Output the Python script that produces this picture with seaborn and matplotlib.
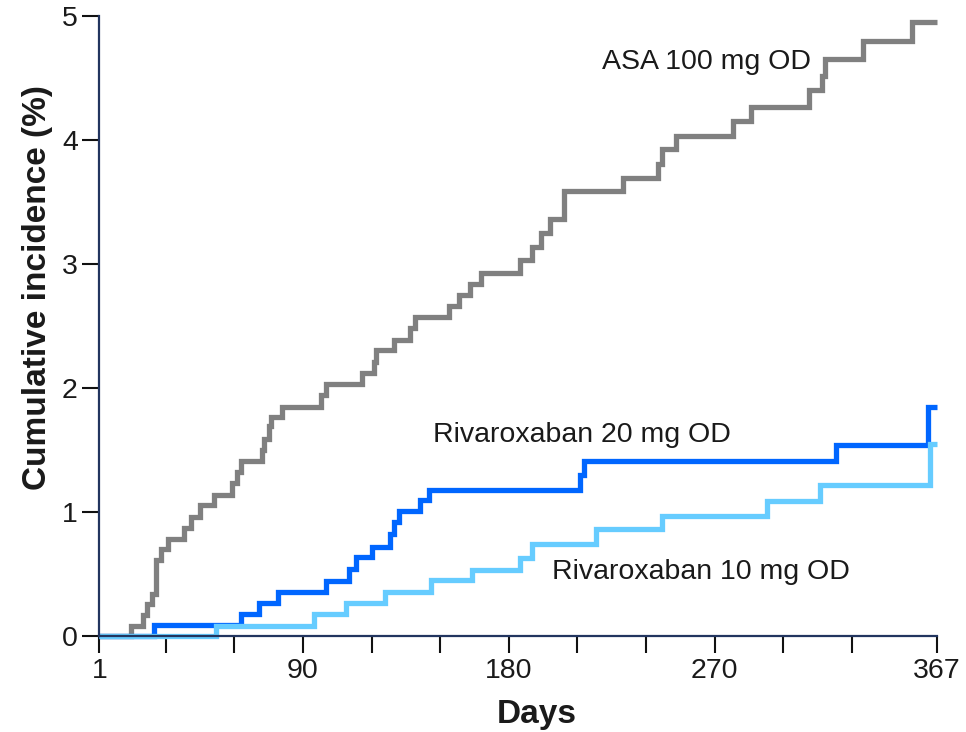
import numpy as np
import pandas as pd
import matplotlib
matplotlib.use("Agg")
import matplotlib.pyplot as plt
import seaborn as sns

# ---- data ----
asa_days = [1, 15, 20, 22, 24, 26, 28, 31, 38, 41, 45, 51, 59, 61, 63, 72, 73, 75, 76, 81,
            98, 100, 116, 121, 122, 130, 137, 139, 154, 158, 163, 168, 185, 190, 194, 198,
            204, 230, 245, 247, 253, 278, 286, 311, 317, 318, 335, 356, 367]
asa_pct = [0.0, 0.08, 0.17, 0.26, 0.34, 0.61, 0.70, 0.78, 0.87, 0.96, 1.06, 1.14, 1.23, 1.32,
           1.41, 1.50, 1.59, 1.69, 1.77, 1.85, 1.94, 2.03, 2.12, 2.21, 2.31, 2.39, 2.48, 2.57,
           2.66, 2.75, 2.84, 2.93, 3.03, 3.14, 3.25, 3.36, 3.59, 3.69, 3.81, 3.93, 4.03, 4.15,
           4.27, 4.40, 4.52, 4.65, 4.80, 4.95, 4.95]

riva20_days = [1, 25, 63, 71, 79, 100, 110, 113, 120, 128, 130, 132, 141, 145, 211, 213, 323, 363, 367]
riva20_pct = [0.0, 0.085, 0.175, 0.264, 0.357, 0.446, 0.538, 0.635, 0.72, 0.82, 0.92, 1.01,
              1.10, 1.18, 1.30, 1.41, 1.54, 1.85, 1.85]

riva10_days = [1, 52, 95, 109, 126, 146, 164, 185, 190, 218, 247, 293, 316, 364, 367]
riva10_pct = [0.0, 0.083, 0.175, 0.264, 0.352, 0.45, 0.53, 0.63, 0.74, 0.86, 0.97, 1.09,
              1.22, 1.546, 1.546]

series_names = ["ASA 100 mg OD", "Rivaroxaban 20 mg OD", "Rivaroxaban 10 mg OD"]
series_colors = ["#808080", "#0066ff", "#66ccff"]

x_ticks = [1, 30, 60, 90, 120, 150, 180, 210, 240, 270, 300, 330, 367]
x_labels = ["1", "", "", "90", "", "", "180", "", "", "270", "", "", "367"]
y_ticks = [0, 1, 2, 3, 4, 5]

df = pd.concat([
    pd.DataFrame({"Days": asa_days, "pct": asa_pct, "series": series_names[0]}),
    pd.DataFrame({"Days": riva20_days, "pct": riva20_pct, "series": series_names[1]}),
    pd.DataFrame({"Days": riva10_days, "pct": riva10_pct, "series": series_names[2]}),
], ignore_index=True)

sns.set_theme(style="white")
plt.rcParams["font.family"] = ["Liberation Sans", "DejaVu Sans"]

fig = plt.figure(figsize=(9.66, 7.32), dpi=100)
ax = fig.add_axes([99.3 / 966, 96 / 732, 837.4 / 966, 620 / 732])

sns.lineplot(data=df, x="Days", y="pct", hue="series", hue_order=series_names,
             palette=dict(zip(series_names, series_colors)), estimator=None, sort=False,
             drawstyle="steps-post", linewidth=3.8, legend=False, ax=ax)
for ln in ax.get_lines():
    ln.set_clip_on(False)
    ln.set_solid_joinstyle("miter")
    ln.set_solid_capstyle("butt")

ax.set_xlim(1, 367)
ax.set_ylim(0, 5)
ax.set_xticks(x_ticks)
ax.set_xticklabels(x_labels)
ax.set_yticks(y_ticks)
ax.set_yticklabels([str(v) for v in y_ticks])

for side in ["top", "right"]:
    ax.spines[side].set_visible(False)
for side in ["left", "bottom"]:
    ax.spines[side].set_color("#22355f")
    ax.spines[side].set_linewidth(1.6)

ax.tick_params(axis="both", which="major", direction="out", length=12.5, width=1.5,
               color="#111111", labelsize=20.5, labelcolor="#1a1a1a", pad=3,
               bottom=True, left=True)

ax.set_xlabel("Days", fontsize=24, fontweight="bold", color="#1a1a1a")
ax.set_ylabel("Cumulative incidence (%)", fontsize=24, fontweight="bold", color="#1a1a1a")
ax.xaxis.set_label_coords(0.5227, -0.126)
ax.yaxis.set_label_coords(-0.074, 0.562)
ax.xaxis.label.set_va("center")
ax.yaxis.label.set_va("center")

ax.text(220.7, 4.63, "ASA 100 mg OD", fontsize=20.5, color="#1a1a1a", ha="left", va="center")
ax.text(146.8, 1.62, "Rivaroxaban 20 mg OD", fontsize=20.5, color="#1a1a1a", ha="left", va="center")
ax.text(198.9, 0.516, "Rivaroxaban 10 mg OD", fontsize=20.5, color="#1a1a1a", ha="left", va="center")

fig.savefig("out.png", dpi=100)
